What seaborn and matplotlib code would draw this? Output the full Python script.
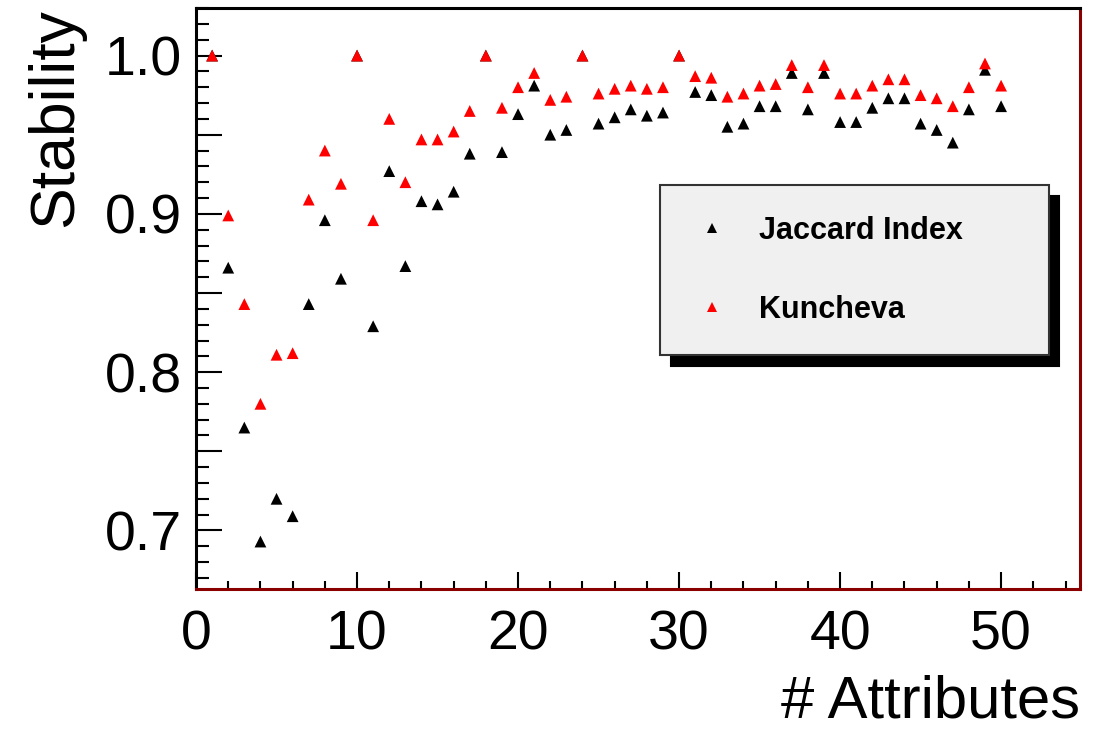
import pandas as pd
import matplotlib
matplotlib.use("Agg")
import matplotlib.pyplot as plt
import matplotlib.ticker as mticker
from matplotlib.patches import Shadow
import seaborn as sns

# --- Data ---
n_attributes = list(range(1, 51))
jaccard = [1.0, 0.866, 0.765, 0.693, 0.720, 0.709, 0.843, 0.896, 0.859, 1.0,
           0.829, 0.927, 0.867, 0.908, 0.906, 0.914, 0.938, 1.0, 0.939, 0.963,
           0.981, 0.950, 0.953, 1.0, 0.957, 0.961, 0.966, 0.962, 0.964, 1.0,
           0.977, 0.975, 0.955, 0.957, 0.968, 0.968, 0.989, 0.966, 0.989, 0.958,
           0.958, 0.967, 0.973, 0.973, 0.957, 0.953, 0.945, 0.966, 0.991, 0.968]
kuncheva = [1.0, 0.899, 0.843, 0.780, 0.811, 0.812, 0.909, 0.940, 0.919, 1.0,
            0.896, 0.960, 0.920, 0.947, 0.947, 0.952, 0.965, 1.0, 0.967, 0.980,
            0.989, 0.972, 0.974, 1.0, 0.976, 0.979, 0.981, 0.979, 0.980, 1.0,
            0.987, 0.986, 0.974, 0.976, 0.981, 0.982, 0.994, 0.980, 0.994, 0.976,
            0.976, 0.981, 0.985, 0.985, 0.975, 0.973, 0.968, 0.980, 0.995, 0.981]
series_names = ["Jaccard Index", "Kuncheva"]

df = pd.concat([
    pd.DataFrame({"attributes": n_attributes, "stability": jaccard, "measure": series_names[0]}),
    pd.DataFrame({"attributes": n_attributes, "stability": kuncheva, "measure": series_names[1]}),
], ignore_index=True)

# --- Style ---
sns.set_theme(style="white")
plt.rcParams["font.family"] = ["Liberation Sans", "DejaVu Sans"]
plt.rcParams["text.color"] = "black"
plt.rcParams["axes.labelcolor"] = "black"
plt.rcParams["xtick.color"] = "black"
plt.rcParams["ytick.color"] = "black"

fig = plt.figure(figsize=(10.97, 7.34), dpi=100)
ax = fig.add_axes([0.1787, 0.1975, 0.8058, 0.7915])

sns.scatterplot(data=df, x="attributes", y="stability", hue="measure",
                hue_order=series_names, palette=["black", "#ff0000"],
                marker="^", s=72, linewidth=0, ax=ax)

ax.set_xlim(0, 54.9)
ax.set_ylim(0.663, 1.030)

# ROOT-like ticks
ax.xaxis.set_major_locator(mticker.MultipleLocator(10))
ax.xaxis.set_minor_locator(mticker.MultipleLocator(2))
ax.yaxis.set_major_locator(mticker.MultipleLocator(0.05))
ax.yaxis.set_minor_locator(mticker.MultipleLocator(0.01))
ax.yaxis.set_major_formatter(mticker.FuncFormatter(
    lambda v, p: f"{v:.1f}" if abs(v * 10 - round(v * 10)) < 1e-6 else ""))
ax.tick_params(axis="x", which="major", direction="in", length=12, width=1.5,
               labelsize=40, pad=15, bottom=True, top=False)
ax.tick_params(axis="x", which="minor", direction="in", length=6, width=1.5,
               bottom=True, top=False)
ax.tick_params(axis="y", which="major", direction="in", length=19, width=1.5,
               labelsize=40, pad=10, left=True, right=False)
ax.tick_params(axis="y", which="minor", direction="in", length=9, width=1.5,
               left=True, right=False)

for side in ["top", "left"]:
    ax.spines[side].set_color("black")
    ax.spines[side].set_linewidth(2.2)
for side in ["bottom", "right"]:
    ax.spines[side].set_color("#8a0000")
    ax.spines[side].set_linewidth(2.2)

ax.set_xlabel("# Attributes", fontsize=43, loc="right", labelpad=9)
ax.set_ylabel("Stability", fontsize=45, loc="top", labelpad=14)

# Legend with hard drop shadow
leg = ax.legend(loc="upper left", bbox_to_anchor=(0.525, 0.695, 0.44, 0.0),
                mode="expand", borderaxespad=0, frameon=True, fancybox=False,
                prop={"size": 22, "weight": "bold"}, markerscale=0.85,
                borderpad=1.0, handlelength=1.4, handletextpad=0.85,
                labelspacing=1.6, title=None)
leg.get_frame().set_facecolor("#f0f0f0")
leg.get_frame().set_edgecolor("#333333")
leg.get_frame().set_linewidth(1.5)
leg.get_frame().set_alpha(1)
leg.set_zorder(6)

fig.canvas.draw()
shadow = Shadow(leg.legendPatch, 7.5, -7.5, color="black", alpha=1)
shadow.set_zorder(5.5)
ax.add_artist(shadow)

plt.savefig("out.png", dpi=100)
plt.close()
